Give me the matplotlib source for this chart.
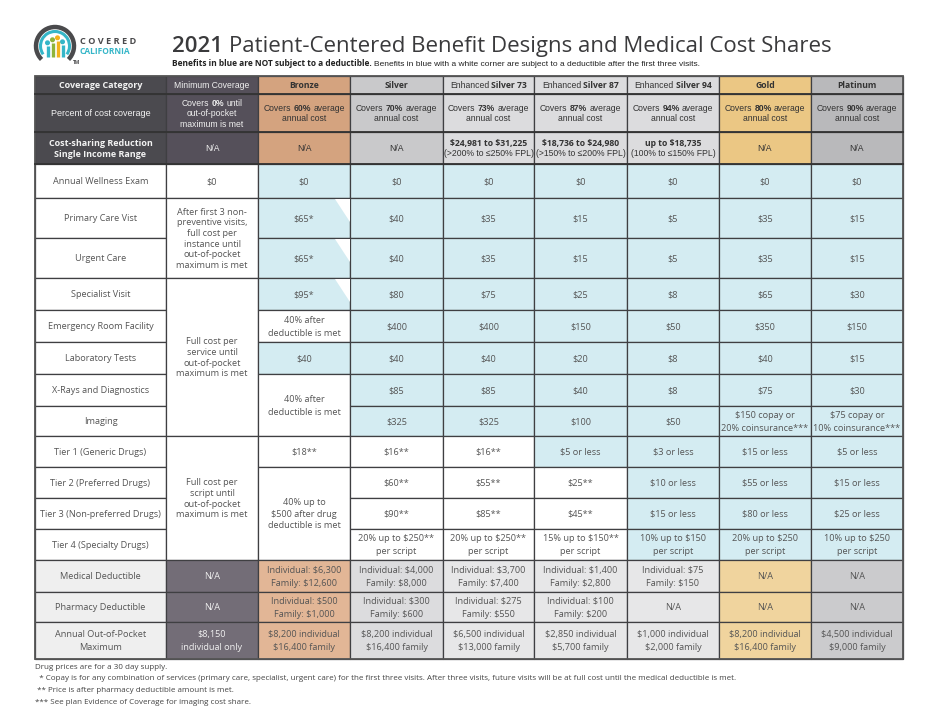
import matplotlib.pyplot as plt
from matplotlib.patches import Rectangle, Polygon, Arc, Circle

# ---------------- data ----------------
row_labels = ['Annual Wellness Exam', 'Primary Care Vist', 'Urgent Care', 'Specialist Visit',
              'Emergency Room Facility', 'Laboratory Tests', 'X-Rays and Diagnostics', 'Imaging',
              'Tier 1 (Generic Drugs)', 'Tier 2 (Preferred Drugs)', 'Tier 3 (Non-preferred Drugs)',
              'Tier 4 (Specialty Drugs)', 'Medical Deductible', 'Pharmacy Deductible',
              'Annual Out-of-Pocket\nMaximum']

# "~" toggles bold
plan_names = ['Minimum Coverage', '~Bronze~', '~Silver~', 'Enhanced ~Silver 73~',
              'Enhanced ~Silver 87~', 'Enhanced ~Silver 94~', '~Gold~', '~Platinum~']
pct_coverage = ['Covers ~0%~ until\nout-of-pocket\nmaximum is met',
                'Covers ~60%~ average\nannual cost', 'Covers ~70%~ average\nannual cost',
                'Covers ~73%~ average\nannual cost', 'Covers ~87%~ average\nannual cost',
                'Covers ~94%~ average\nannual cost', 'Covers ~80%~ average\nannual cost',
                'Covers ~90%~ average\nannual cost']
csr_income = ['N/A', 'N/A', 'N/A',
              '~$24,981 to $31,225~\n(>200% to \u2264250% FPL)',
              '~$18,736 to $24,980~\n(>150% to \u2264200% FPL)',
              '~up to $18,735~\n(100% to \u2264150% FPL)', 'N/A', 'N/A']

# None = merged with the cell above
min_cov = ['$0', 'After first 3 non-\npreventive visits,\nfull cost per\ninstance until\nout-of-pocket\nmaximum is met',
           None, 'Full cost per\nservice until\nout-of-pocket\nmaximum is met', None, None, None, None,
           'Full cost per\nscript until\nout-of-pocket\nmaximum is met', None, None, None,
           'N/A', 'N/A', '$8,150\nindividual only']
bronze = ['$0', '$65*', '$65*', '$95*', '40% after\ndeductible is met', '$40',
          '40% after\ndeductible is met', None, '$18**',
          '40% up to\n$500 after drug\ndeductible is met', None, None,
          'Individual: $6,300\nFamily: $12,600', 'Individual: $500\nFamily: $1,000',
          '$8,200 individual\n$16,400 family']
silver = ['$0', '$40', '$40', '$80', '$400', '$40', '$85', '$325', '$16**', '$60**', '$90**',
          '20% up to $250**\nper script', 'Individual: $4,000\nFamily: $8,000',
          'Individual: $300\nFamily: $600', '$8,200 individual\n$16,400 family']
silver73 = ['$0', '$35', '$35', '$75', '$400', '$40', '$85', '$325', '$16**', '$55**', '$85**',
            '20% up to $250**\nper script', 'Individual: $3,700\nFamily: $7,400',
            'Individual: $275\nFamily: $550', '$6,500 individual\n$13,000 family']
silver87 = ['$0', '$15', '$15', '$25', '$150', '$20', '$40', '$100', '$5 or less', '$25**', '$45**',
            '15% up to $150**\nper script', 'Individual: $1,400\nFamily: $2,800',
            'Individual: $100\nFamily: $200', '$2,850 individual\n$5,700 family']
silver94 = ['$0', '$5', '$5', '$8', '$50', '$8', '$8', '$50', '$3 or less', '$10 or less',
            '$15 or less', '10% up to $150\nper script', 'Individual: $75\nFamily: $150',
            'N/A', '$1,000 individual\n$2,000 family']
gold = ['$0', '$35', '$35', '$65', '$350', '$40', '$75', '$150 copay or\n20% coinsurance***',
        '$15 or less', '$55 or less', '$80 or less', '20% up to $250\nper script',
        'N/A', 'N/A', '$8,200 individual\n$16,400 family']
platinum = ['$0', '$15', '$15', '$30', '$150', '$15', '$30', '$75 copay or\n10% coinsurance***',
            '$5 or less', '$15 or less', '$25 or less', '10% up to $250\nper script',
            'N/A', 'N/A', '$4,500 individual\n$9,000 family']
plan_cols = [min_cov, bronze, silver, silver73, silver87, silver94, gold, platinum]

# b = blue (no deductible), w = white; first 12 benefit rows
no_deductible = ['wwwwwwwwwwww', 'bbbbwbwwwwww', 'bbbbbbbbwwww', 'bbbbbbbbwwww',
                 'bbbbbbbbbwww', 'bbbbbbbbbbbb', 'bbbbbbbbbbbb', 'bbbbbbbbbbbb']
white_corner = [(1, 1), (1, 2), (1, 3)]  # (plan, row)

footnotes = ['Drug prices are for a 30 day supply.',
             '  * Copay is for any combination of services (primary care, specialist, urgent care) for the first three visits. After three visits, future visits will be at full cost until the medical deductible is met.',
             ' ** Price is after pharmacy deductible amount is met.',
             '*** See plan Evidence of Coverage for imaging cost share.']

# ---------------- layout / style ----------------
col_x = [35, 166, 258, 350, 443, 534, 627, 719, 811, 903]
head_y = [76, 94, 132, 164]
body_y = [164, 198, 238, 278, 310, 342, 374, 406, 436, 467, 498, 529, 560, 592, 622, 659]

hdr_fill = ['#55505a', '#d4a37f', '#c9c9cb', '#dcdcde', '#dcdcde', '#dcdcde', '#ebc784', '#b9b9bb']
bottom_fill = ['#736d77', '#e2b696', '#dcdcde', '#e7e7e8', '#e7e7e8', '#e7e7e8', '#f0d49e', '#cbcbcd']
label_dark = '#4b4a4f'
blue = '#d4ecf2'
line_c = '#3f3f42'
txt_c = '#555555'

BODY = 'Open Sans'
HEAD = 'Liberation Sans'

fig = plt.figure(figsize=(9.39, 7.25), dpi=100)
ax = fig.add_axes([0, 0, 1, 1])
ax.set_xlim(0, 939)
ax.set_ylim(725, 0)
ax.axis('off')
renderer = fig.canvas.get_renderer()


def text_w(s, **kw):
    t = ax.text(0, 0, s, parse_math=False, **kw)
    w = t.get_window_extent(renderer).width
    t.remove()
    return w


def rich_line(x, y, line, size, color, fam, bfam, ha='center', bweight='bold'):
    items, pos = [], 0.0
    for i, p in enumerate(line.split('~')):
        if not p:
            continue
        kw = dict(fontsize=size, family=bfam if i % 2 else fam,
                  fontweight=bweight if i % 2 else 'normal')
        sw = text_w('a a', **kw) - text_w('aa', **kw)
        pos += (len(p) - len(p.lstrip(' '))) * sw
        core = p.strip(' ')
        if core:
            items.append((pos, core, kw))
            pos += text_w(core, **kw)
        pos += (len(p) - len(p.rstrip(' '))) * sw
    x0 = x - pos / 2 if ha == 'center' else x
    for off, core, kw in items:
        ax.text(x0 + off, y, core, color=color, ha='left', va='baseline', parse_math=False, **kw)


def cell_text(cx, cy, s, size, color, fam, bfam, ls, rich=True):
    lines = s.split('\n')
    n = len(lines)
    cap = 0.72 * size * 100 / 72
    for i, ln in enumerate(lines):
        y = cy + (i - (n - 1) / 2) * ls + cap / 2
        if rich:
            rich_line(cx, y, ln, size, color, fam, bfam)
        else:
            ax.text(cx, y, ln, fontsize=size, color=color, family=fam, ha='center',
                    va='baseline', parse_math=False)


def cell(x0, x1, y0, y1, fc):
    ax.add_patch(Rectangle((x0, y0), x1 - x0, y1 - y0, facecolor=fc, edgecolor=line_c, lw=0.9, zorder=1))


# ---------------- header rows ----------------
header_rows = [plan_names, pct_coverage, csr_income]
first_col_head = ['~Coverage Category~', 'Percent of cost coverage', '~Cost-sharing Reduction~\n~Single Income Range~']
for r in range(3):
    y0, y1 = head_y[r], head_y[r + 1]
    cy = (y0 + y1) / 2
    cell(col_x[0], col_x[1], y0, y1, label_dark)
    cell_text((col_x[0] + col_x[1]) / 2, cy, first_col_head[r], 6.5, '#f2f2f2', HEAD, BODY, 11)
    for j, vals in enumerate(header_rows[r]):
        x0, x1 = col_x[j + 1], col_x[j + 2]
        cell(x0, x1, y0, y1, hdr_fill[j])
        col = '#f0f0f0' if j == 0 else '#333333'
        bfam = BODY if r != 1 else HEAD
        cell_text((x0 + x1) / 2, cy, vals, 6.2, col, HEAD, bfam, 10.5)

# ---------------- body rows ----------------
for r, lab in enumerate(row_labels):
    y0, y1 = body_y[r], body_y[r + 1]
    fc = 'white' if r < 12 else '#efefef'
    cell(col_x[0], col_x[1], y0, y1, fc)
    cell_text((col_x[0] + col_x[1]) / 2, (y0 + y1) / 2, lab, 6.6, txt_c, BODY, BODY, 13, rich=False)

for j, vals in enumerate(plan_cols):
    x0, x1 = col_x[j + 1], col_x[j + 2]
    for r, v in enumerate(vals):
        if v is None:
            continue
        r1 = r + 1
        while r1 < len(vals) and vals[r1] is None:
            r1 += 1
        y0, y1 = body_y[r], body_y[r1]
        if r < 12:
            fc = blue if no_deductible[j][r] == 'b' else 'white'
            col = txt_c
        else:
            fc = bottom_fill[j]
            col = '#f0f0f0' if j == 0 else txt_c
        cell(x0, x1, y0, y1, fc)
        if (j, r) in white_corner:
            ax.add_patch(Polygon([(x1 - 15, y0 + 0.5), (x1 - 0.5, y0 + 0.5), (x1 - 0.5, y0 + 24)],
                                 closed=True, facecolor='white', edgecolor='none', zorder=2))
        n = v.count('\n') + 1
        ls = 13 if n <= 2 else (11.5 if n == 3 else 10.7)
        cell_text((x0 + x1) / 2, (y0 + y1) / 2, v, 6.6, col, BODY, BODY, ls, rich=False)

# outer border
ax.add_patch(Rectangle((col_x[0], head_y[0]), col_x[-1] - col_x[0], body_y[-1] - head_y[0],
                       facecolor='none', edgecolor='#555555', lw=1.3, zorder=3))
for yy in head_y[1:]:
    ax.plot([col_x[0], col_x[-1]], [yy, yy], color='#333333', lw=1.3, zorder=3)

# ---------------- title ----------------
rich_line(172, 52, '~2021~ Patient-Centered Benefit Designs and Medical Cost Shares', 16.0,
          '#3a3a3c', BODY, BODY, ha='left', bweight='semibold')
rich_line(172, 66, '~Benefits in blue are NOT subject to a deductible.~ Benefits in blue with a white corner are subject to a deductible after the first three visits.',
          6.0, '#222222', HEAD, BODY, ha='left')

# ---------------- logo ----------------
ax.add_patch(Arc((55, 46), 38, 38, theta1=135, theta2=405, color='#4a4a4c', lw=3.2))
ax.add_patch(Arc((55, 46), 29, 29, theta1=145, theta2=395, color='#35b6c8', lw=2.2))
fig_x = [47.5, 52.5, 57.5, 62.5]
fig_top = [46, 43, 41, 45]
fig_col = ['#35b6c8', '#8fb43a', '#f3b21c', '#35b6c8']
for fx, ft, fcol in zip(fig_x, fig_top, fig_col):
    ax.plot([fx, fx], [ft, 57], color=fcol, lw=2.4, solid_capstyle='butt')
    ax.add_patch(Circle((fx, ft - 3.2), 1.8, color=fcol))
ax.text(80, 44, 'C O V E R E D', fontsize=6.6, family=BODY, fontweight='bold', color='#4a4a4c', va='baseline')
ax.text(80, 54, 'CALIFORNIA', fontsize=6.0, family=BODY, fontweight='bold', color='#35b6c8', va='baseline')
ax.text(73, 64, 'TM', fontsize=3.5, family=BODY, fontweight='bold', color='#4a4a4c', va='baseline')

# ---------------- footnotes ----------------
foot_y = [669, 680, 692, 704]
for fy, note in zip(foot_y, footnotes):
    ax.text(35, fy, note, fontsize=5.78, family=['Liberation Sans Narrow', 'Open Sans'],
            color='#444444', va='baseline', parse_math=False)

fig.savefig('out.png', dpi=100)
